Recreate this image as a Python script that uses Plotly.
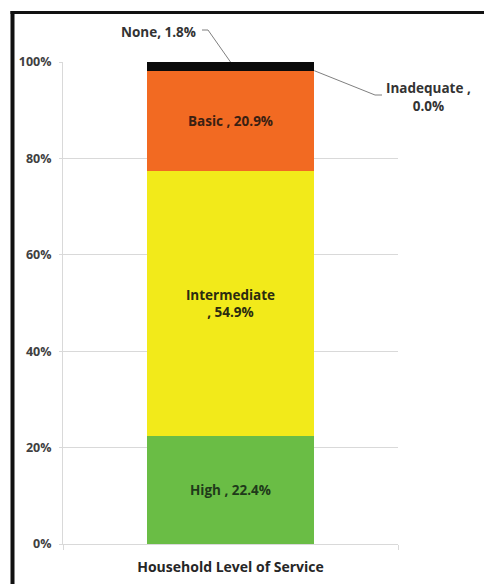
import plotly.graph_objects as go

# Household level of service, share of households (%)
category = ["Household Level of Service"]
levels = ["High", "Intermediate", "Basic", "Inadequate", "None"]
shares = [22.4, 54.9, 20.9, 0.0, 1.8]
colors = ["#6abd45", "#f2ea1a", "#f26a22", "#8c8c8c", "#0a0a0a"]
label_colors = ["#1f3a1a", "#2b2b10", "#3a2012", "#262626", "#262626"]
y_ticks = [0, 20, 40, 60, 80, 100]

W, H = 484, 584
M_L, M_R, M_T, M_B = 63, 86, 62, 40
PW, PH = W - M_L - M_R, H - M_T - M_B
FONT = "Open Sans"


def px_x(p):
    return (p - M_L) / PW


def px_y(p):
    return (H - M_B - p) / PH


fig = go.Figure()

for i, (lvl, val, col) in enumerate(zip(levels, shares, colors)):
    inside = lvl in ("High", "Intermediate", "Basic")
    txt = ""
    if inside:
        txt = f"{lvl}<br>, {val:.1f}%" if lvl == "Intermediate" else f"{lvl} , {val:.1f}%"
    fig.add_trace(go.Bar(
        x=category, y=[val], name=lvl,
        marker=dict(color=col, line=dict(width=0)),
        text=[txt], texttemplate="%{text}",
        textposition="inside", insidetextanchor="middle",
        textangle=0,
        textfont=dict(family=FONT, size=13.5, color=label_colors[i], weight="bold"),
        hoverinfo="skip",
    ))

cum = []
run = 0.0
for v in shares:
    run += v
    cum.append(run)
top_none = cum[levels.index("None")] / 100.0
top_inad = cum[levels.index("Inadequate")] / 100.0

line_style = dict(color="#7f7f7f", width=1)
shapes = [
    # leader for "None"
    dict(type="path", xref="paper", yref="paper",
         path=f"M {px_x(202)},{px_y(30)} L {px_x(208)},{px_y(30)} L 0.5,{top_none}",
         line=line_style),
    # leader for "Inadequate"
    dict(type="path", xref="paper", yref="paper",
         path=f"M 0.75,{top_inad} L {px_x(375)},{px_y(95)} L {px_x(382)},{px_y(95)}",
         line=line_style),
    # frame
    dict(type="line", xref="paper", yref="paper",
         x0=px_x(12.5), x1=px_x(12.5), y0=px_y(11), y1=px_y(600),
         line=dict(color="#111111", width=4)),
    dict(type="line", xref="paper", yref="paper",
         x0=px_x(10.5), x1=px_x(500), y0=px_y(12.5), y1=px_y(12.5),
         line=dict(color="#111111", width=3)),
]

i_none = levels.index("None")
i_inad = levels.index("Inadequate")
annotations = [
    dict(xref="paper", yref="paper", x=px_x(158), y=px_y(32),
         text=f"{levels[i_none]}, {shares[i_none]:.1f}%", showarrow=False,
         font=dict(family=FONT, size=13.5, color="#333333", weight="bold"),
         xanchor="center", yanchor="middle"),
    dict(xref="paper", yref="paper", x=px_x(428), y=px_y(97),
         text=f"{levels[i_inad]} ,<br>{shares[i_inad]:.1f}%", showarrow=False,
         font=dict(family=FONT, size=13.5, color="#333333", weight="bold"),
         align="center", xanchor="center", yanchor="middle"),
]

fig.update_layout(
    barmode="stack",
    bargap=0.5,
    width=W, height=H,
    margin=dict(l=M_L, r=M_R, t=M_T, b=M_B, autoexpand=False),
    paper_bgcolor="white", plot_bgcolor="white",
    showlegend=False,
    shapes=shapes,
    annotations=annotations,
)
fig.update_xaxes(
    type="category",
    showline=True, linecolor="#d9d9d9", linewidth=1,
    ticks="outside", tickson="boundaries", ticklen=5, tickcolor="#d9d9d9",
    tickfont=dict(family=FONT, size=14, color="#262626", weight="bold"),
    ticklabelstandoff=10,
    showgrid=False,
)
fig.update_yaxes(
    range=[0, 100],
    tickvals=y_ticks, ticktext=[f"{t}%" for t in y_ticks],
    showgrid=True, gridcolor="#d9d9d9", gridwidth=1,
    showline=True, linecolor="#d9d9d9", linewidth=1,
    ticks="outside", ticklen=3, tickcolor="#d9d9d9",
    tickfont=dict(family=FONT, size=12.5, color="#404040", weight="bold"),
    ticklabelstandoff=5,
    zeroline=False,
)

fig.write_html("out.html")
